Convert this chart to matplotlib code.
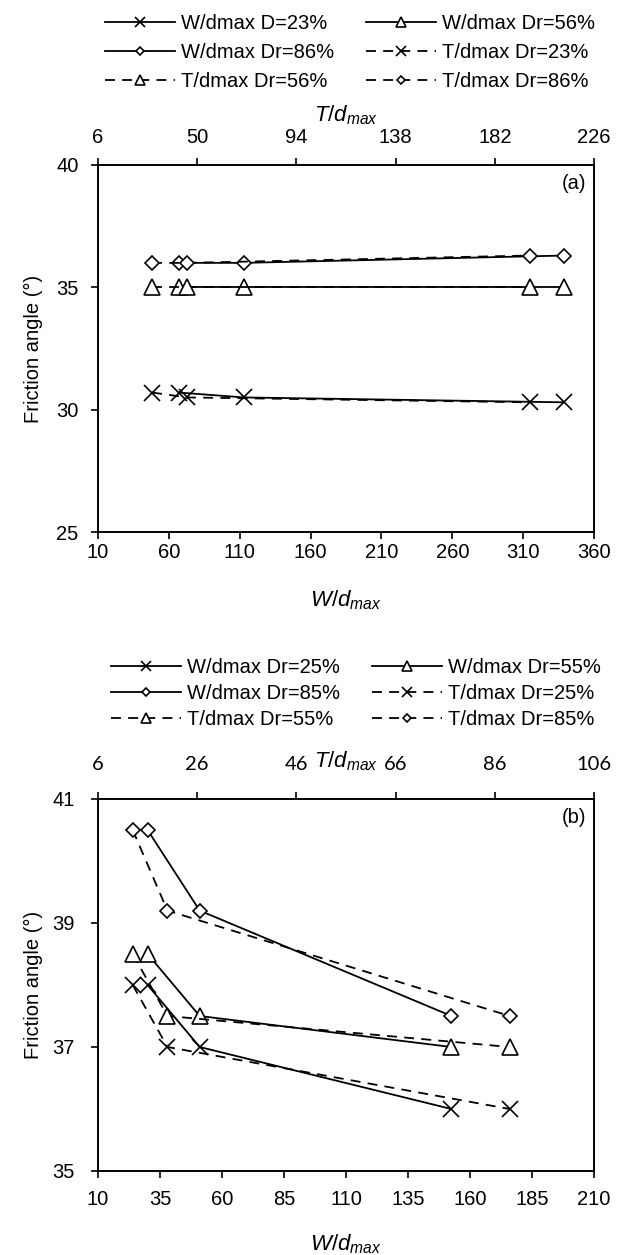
import matplotlib
matplotlib.use('Agg')
import matplotlib.pyplot as plt

plt.rcParams['font.family'] = ['Liberation Sans', 'DejaVu Sans']
plt.rcParams['mathtext.fontset'] = 'custom'
plt.rcParams['mathtext.it'] = 'Liberation Sans:italic'
plt.rcParams['mathtext.rm'] = 'Liberation Sans'
plt.rcParams['font.size'] = 14.5

# panel (a) values
a_w = [67, 113, 339]
a_t = [30, 45.5, 197.5]
a_phi_low = [30.7, 30.5, 30.3]
a_phi_mid = [35.0, 35.0, 35.0]
a_phi_high = [36.0, 36.0, 36.3]
a_labels = ['W/dmax D=23%', 'W/dmax Dr=56%', 'W/dmax Dr=86%',
            'T/dmax Dr=23%', 'T/dmax Dr=56%', 'T/dmax Dr=86%']
a_wticks = [10, 60, 110, 160, 210, 260, 310, 360]
a_tticks = [6, 50, 94, 138, 182, 226]
a_yticks = [25, 30, 35, 40]

# panel (b) values
b_w = [30, 51, 152.5]
b_t = [13, 20, 89]
b_phi_low = [38.0, 37.0, 36.0]
b_phi_mid = [38.5, 37.5, 37.0]
b_phi_high = [40.5, 39.2, 37.5]
b_labels = ['W/dmax Dr=25%', 'W/dmax Dr=55%', 'W/dmax Dr=85%',
            'T/dmax Dr=25%', 'T/dmax Dr=55%', 'T/dmax Dr=85%']
b_wticks = [10, 35, 60, 85, 110, 135, 160, 185, 210]
b_tticks = [6, 26, 46, 66, 86, 106]
b_yticks = [35, 37, 39, 41]

markers = ['x', '^', 'D']
msizes = [11, 11.5, 7.3]


def draw_panel(ax, w, t, phis, labels, wticks, tticks, yticks, tag, tfont,
               leg_y, leg_x, leg_space):
    tax = ax.twiny()
    handles = []
    # solid = W/dmax on bottom axis
    for phi, m, s, lab in zip(phis, markers, msizes, labels[:3]):
        h, = ax.plot(w, phi, '-', color='k', lw=1.3, marker=m, ms=s,
                     mfc='white', mec='k', mew=1.2, label=lab)
        handles.append(h)
    # dashed = T/dmax on top axis
    for phi, m, s, lab in zip(phis, markers, msizes, labels[3:]):
        h, = tax.plot(t, phi, '--', color='k', lw=1.3, dashes=(5.5, 4),
                      marker=m, ms=s, mfc='white', mec='k', mew=1.2, label=lab)
        handles.append(h)

    ax.set_xlim(wticks[0], wticks[-1])
    ax.set_xticks(wticks)
    tax.set_xlim(tticks[0], tticks[-1])
    tax.set_xticks(tticks)
    ax.set_ylim(yticks[0], yticks[-1])
    ax.set_yticks(yticks)
    for lbl in tax.get_xticklabels():
        lbl.set_family(tfont)

    for a in (ax, tax):
        for sp in a.spines.values():
            sp.set_linewidth(1.2)
    ax.tick_params(direction='out', length=5, width=1.2, right=False)
    tax.tick_params(axis='x', direction='out', length=5, width=1.2)

    ax.set_ylabel('Friction angle (°)')
    ax.set_xlabel(r'$W/d_{max}$', fontsize=16)
    tax.set_xlabel(r'$T/d_{max}$', fontsize=16)
    ax.yaxis.set_label_coords(-0.11, 0.5)
    ax.text(0.985, 0.975, tag, transform=ax.transAxes, ha='right', va='top')

    # legend order is row by row in the picture
    order = [0, 2, 4, 1, 3, 5]
    hs = [handles[i] for i in order]
    tax.legend(hs, [h.get_label() for h in hs],
               ncol=2, loc='lower center', bbox_to_anchor=(leg_x, leg_y),
               frameon=False, handlelength=3.45, handletextpad=0.3,
               columnspacing=1.6, labelspacing=leg_space, markerscale=0.6,
               borderpad=0.2)
    return tax


fig = plt.figure(figsize=(6.26, 12.55), dpi=100)

ax1 = fig.add_axes([98 / 626, 1 - 532 / 1255, 496 / 626, 367 / 1255])
tax1 = draw_panel(ax1, a_w, a_t, [a_phi_low, a_phi_mid, a_phi_high], a_labels,
                  a_wticks, a_tticks, a_yticks, '(a)', 'Liberation Sans',
                  1.163, 0.508, 0.5)
ax1.tick_params(axis='x', pad=3)
ax1.tick_params(axis='y', pad=9)
tax1.tick_params(axis='x', pad=8)
ax1.xaxis.set_label_coords(0.5, -0.155)
tax1.xaxis.set_label_coords(0.5, 1.118)

ax2 = fig.add_axes([98 / 626, 1 - 1171 / 1255, 496 / 626, 372 / 1255])
tax2 = draw_panel(ax2, b_w, b_t, [b_phi_low, b_phi_mid, b_phi_high], b_labels,
                  b_wticks, b_tticks, b_yticks, '(b)', 'Lato',
                  1.149, 0.52, 0.35)
ax2.tick_params(axis='x', pad=9)
ax2.tick_params(axis='y', pad=12)
tax2.tick_params(axis='x', pad=13.5)
ax2.xaxis.set_label_coords(0.5, -0.165)
tax2.xaxis.set_label_coords(0.5, 1.085)

fig.savefig('out.png', dpi=100)
